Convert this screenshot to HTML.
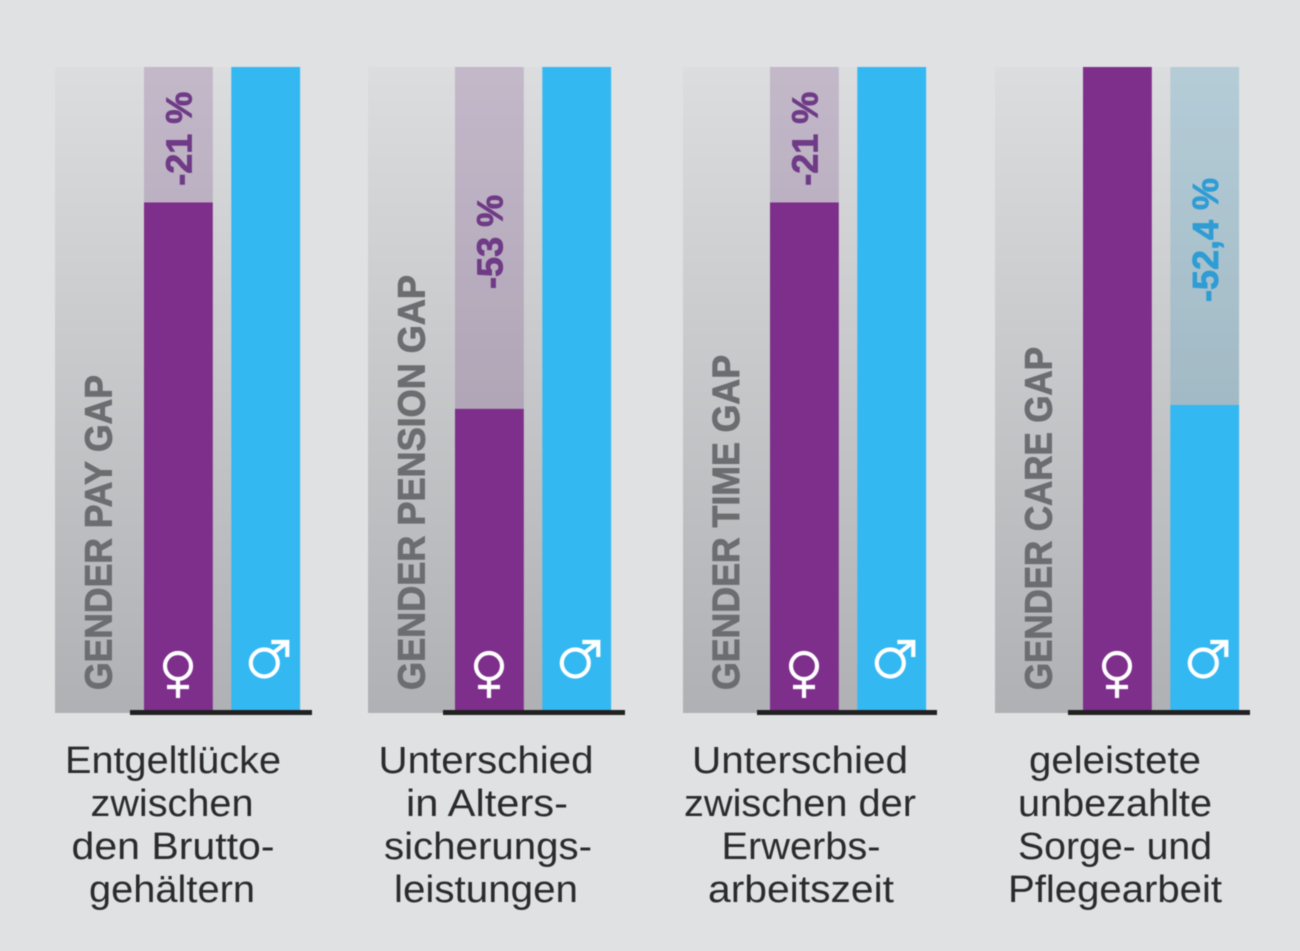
<!DOCTYPE html>
<html lang="de">
<head>
<meta charset="utf-8">
<title>Gender Gaps</title>
<style>
html,body{margin:0;padding:0;background:#e0e1e3;}
svg{display:block;filter:blur(0.5px);}
.gap-title{font-family:"Liberation Sans",sans-serif;font-weight:700;font-size:38px;fill:#6c6d70;stroke:#6c6d70;stroke-width:0.9px;}
.caption{font-family:"Liberation Sans",sans-serif;font-size:38px;fill:#2b2a2c;text-anchor:middle;}
.value{font-family:"Liberation Sans",sans-serif;font-weight:700;font-size:36px;stroke-width:0.8px;}
</style>
</head>
<body>
<svg id="chart" width="1300" height="951" viewBox="0 0 1300 951" xmlns="http://www.w3.org/2000/svg">
  <defs>
    <linearGradient id="panelFill" gradientUnits="userSpaceOnUse" x1="0" y1="67" x2="0" y2="712">
      <stop offset="0" stop-color="#dcdddf"/>
      <stop offset="1" stop-color="#b0b1b4"/>
    </linearGradient>
  </defs>
  <rect x="0" y="0" width="1300" height="951" fill="#e0e1e3"/>

  <rect x="55" y="67" width="245" height="646" fill="url(#panelFill)"/>
  <rect x="368" y="67" width="243" height="646" fill="url(#panelFill)"/>
  <rect x="683" y="67" width="243" height="646" fill="url(#panelFill)"/>
  <rect x="995" y="67" width="244" height="646" fill="url(#panelFill)"/>

  <text class="gap-title" transform="translate(111.5,690) rotate(-90)" textLength="315" lengthAdjust="spacingAndGlyphs">GENDER PAY GAP</text>
  <text class="gap-title" transform="translate(424.5,690) rotate(-90)" textLength="415" lengthAdjust="spacingAndGlyphs">GENDER PENSION GAP</text>
  <text class="gap-title" transform="translate(739,690) rotate(-90)" textLength="335" lengthAdjust="spacingAndGlyphs">GENDER TIME GAP</text>
  <text class="gap-title" transform="translate(1051.5,690) rotate(-90)" textLength="343" lengthAdjust="spacingAndGlyphs">GENDER CARE GAP</text>

  <g id="panel-0" transform="translate(56,0)"></g>
  <g id="panel-1" transform="translate(367,0)"></g>
  <g id="panel-2" transform="translate(682,0)"></g>
  <g id="panel-3" transform="translate(995,0)"></g>

  <rect x="130" y="710" width="182" height="5" fill="#222122"/>
  <rect x="443" y="710" width="182" height="5" fill="#222122"/>
  <rect x="757" y="710" width="180" height="5" fill="#222122"/>
  <rect x="1068" y="710" width="182" height="5" fill="#222122"/>

  <g>
    <text class="caption" x="173" y="773" textLength="216" lengthAdjust="spacingAndGlyphs">Entgeltlücke</text>
    <text class="caption" x="172" y="816" textLength="163" lengthAdjust="spacingAndGlyphs">zwischen</text>
    <text class="caption" x="173" y="859" textLength="203" lengthAdjust="spacingAndGlyphs">den Brutto-</text>
    <text class="caption" x="172" y="902" textLength="166" lengthAdjust="spacingAndGlyphs">gehältern</text>
  </g>
  <g>
    <text class="caption" x="486" y="773" textLength="215" lengthAdjust="spacingAndGlyphs">Unterschied</text>
    <text class="caption" x="487" y="816" textLength="162" lengthAdjust="spacingAndGlyphs">in Alters-</text>
    <text class="caption" x="488" y="859" textLength="208" lengthAdjust="spacingAndGlyphs">sicherungs-</text>
    <text class="caption" x="486" y="902" textLength="184" lengthAdjust="spacingAndGlyphs">leistungen</text>
  </g>
  <g>
    <text class="caption" x="800" y="773" textLength="216" lengthAdjust="spacingAndGlyphs">Unterschied</text>
    <text class="caption" x="800" y="816" textLength="232" lengthAdjust="spacingAndGlyphs">zwischen der</text>
    <text class="caption" x="801" y="859" textLength="159" lengthAdjust="spacingAndGlyphs">Erwerbs-</text>
    <text class="caption" x="801" y="902" textLength="186" lengthAdjust="spacingAndGlyphs">arbeitszeit</text>
  </g>
  <g>
    <text class="caption" x="1115" y="773" textLength="172" lengthAdjust="spacingAndGlyphs">geleistete</text>
    <text class="caption" x="1115" y="816" textLength="194" lengthAdjust="spacingAndGlyphs">unbezahlte</text>
    <text class="caption" x="1115" y="859" textLength="194" lengthAdjust="spacingAndGlyphs">Sorge- und</text>
    <text class="caption" x="1115" y="902" textLength="214" lengthAdjust="spacingAndGlyphs">Pflegearbeit</text>
  </g>
</svg>
<script>
// Bar heights as a share of the leading group (percent)
var gaps = ["pay", "pension", "time", "care"];
var womenValues = [79, 47, 79, 100];
var menValues = [100, 100, 100, 47.6];
var womenLabels = ["-21 %", "-53 %", "-21 %", ""];
var menLabels = ["", "", "", "-52,4 %"];

var NS = "http://www.w3.org/2000/svg";
var PLOT_TOP = 67, PLOT_BOTTOM = 712, BAR_WIDTH = 68.8;
var WOMEN_OFFSET = 88, MEN_OFFSET = 175.3;

function yScale(v) {
  return PLOT_BOTTOM - (v / 100) * (PLOT_BOTTOM - PLOT_TOP);
}

function make(tag, attrs, parent) {
  var n = document.createElementNS(NS, tag);
  for (var k in attrs) { n.setAttribute(k, attrs[k]); }
  parent.appendChild(n);
  return n;
}

function drawSeries(group, x, value, labelText, solid, ghost, textFill, gap, who) {
  if (value < 100) {
    var ghostBar = make("rect", {x: x, y: yScale(100), width: BAR_WIDTH, height: yScale(value) - yScale(100), fill: ghost, "fill-opacity": 0.2}, group);
    
    
  }
  var bar = make("rect", {x: x, y: yScale(value), width: BAR_WIDTH, height: yScale(0) - yScale(value), fill: solid}, group);
  
  
  if (labelText) {
    var mid = (yScale(100) + yScale(value)) / 2 + 4;
    var t = make("text", {"class": "value", "text-anchor": "middle", fill: textFill, stroke: textFill,
      transform: "translate(" + (x + 47.5) + "," + mid + ") rotate(-90)"}, group);
    t.textContent = labelText;
    
    
  }
}

function drawFemale(group, x) {
  var g = make("g", {fill: "none", stroke: "#ffffff", "stroke-width": 4.2, transform: "translate(" + (x + 34) + ",0)"}, group);
  
  
  make("circle", {cx: 0, cy: 666, r: 13}, g);
  make("line", {x1: 0, y1: 679, x2: 0, y2: 698}, g);
  make("line", {x1: -11, y1: 687, x2: 11, y2: 687}, g);
}

function drawMale(group, x) {
  var g = make("g", {fill: "none", stroke: "#ffffff", "stroke-width": 4.2, transform: "translate(" + (x + 33) + ",0)"}, group);
  
  
  make("circle", {cx: 0, cy: 663, r: 13.5}, g);
  make("line", {x1: 9, y1: 653, x2: 23, y2: 642}, g);
  make("polyline", {points: "7,642 23,642 23,657"}, g);
}

for (var i = 0; i < gaps.length; i++) {
  var group = document.getElementById("panel-" + i);
  drawSeries(group, WOMEN_OFFSET, womenValues[i], womenLabels[i], "#7e2e8b", "#5e2875", "#6f3a86", gaps[i], "women");
  drawSeries(group, MEN_OFFSET, menValues[i], menLabels[i], "#33b8f2", "#1b8cba", "#2f9cd4", gaps[i], "men");
  drawFemale(group, WOMEN_OFFSET);
  drawMale(group, MEN_OFFSET);
}
</script>
</body>
</html>
